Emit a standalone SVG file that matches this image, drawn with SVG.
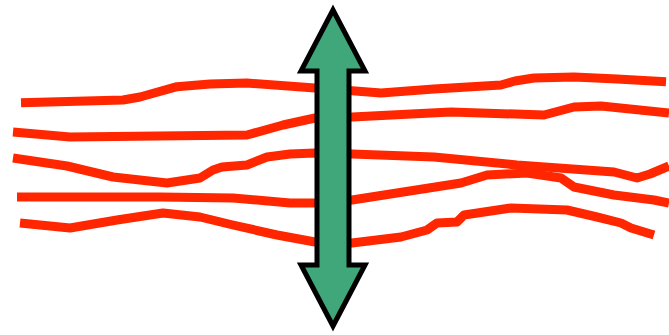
<svg xmlns="http://www.w3.org/2000/svg" width="669" height="335" viewBox="0 0 669 335">
<style>
.fiber{fill:none;stroke:#ff2600;stroke-width:9;stroke-linejoin:round;stroke-linecap:butt}
.arrow{fill:#3fa779;stroke:#000;stroke-width:5;stroke-linejoin:miter;stroke-miterlimit:10}
</style>
<rect width="669" height="335" fill="#fff"/>
<g id="connectors">
<polyline class="fiber" points="21,102.7 123,100 140,97 177,86.7 210,84 247,83 315,88 352,90.7 381,93 434,89 501,85 515,81 534,78 574,77 617,79 666,81.7"/>
<polyline class="fiber" points="13,132 70,137 247,135 283,125 315,118 352,117 451,112 544,115 574,107 601,106 669,113"/>
<polyline class="fiber" points="13,158 67,166 113,177 167,183 200,178 213,170 222,167 247,165 267,157 290,154 315,153 352,154 434,157 517,165 614,172 637,178 650,174 669,166"/>
<polyline class="fiber" points="17,197 160,197 233,198 290,203 315,203 352,200 461,183 487,175 527,173 561,178 574,187 614,195 654,200 669,203"/>
<polyline class="fiber" points="20,223 70,228 117,220 163,213 200,217 233,225 277,235 315,242 352,243 401,237 427,230 437,223 457,222 464,215 511,208 567,210 597,217 621,223 631,228 654,235"/>
</g>
<g id="arrow">
<path class="arrow" d="M333,10 L365,71 L349,71 L349,265 L365,265 L333,326 L301,265 L317,265 L317,71 L301,71 Z"/>
</g>
</svg>
